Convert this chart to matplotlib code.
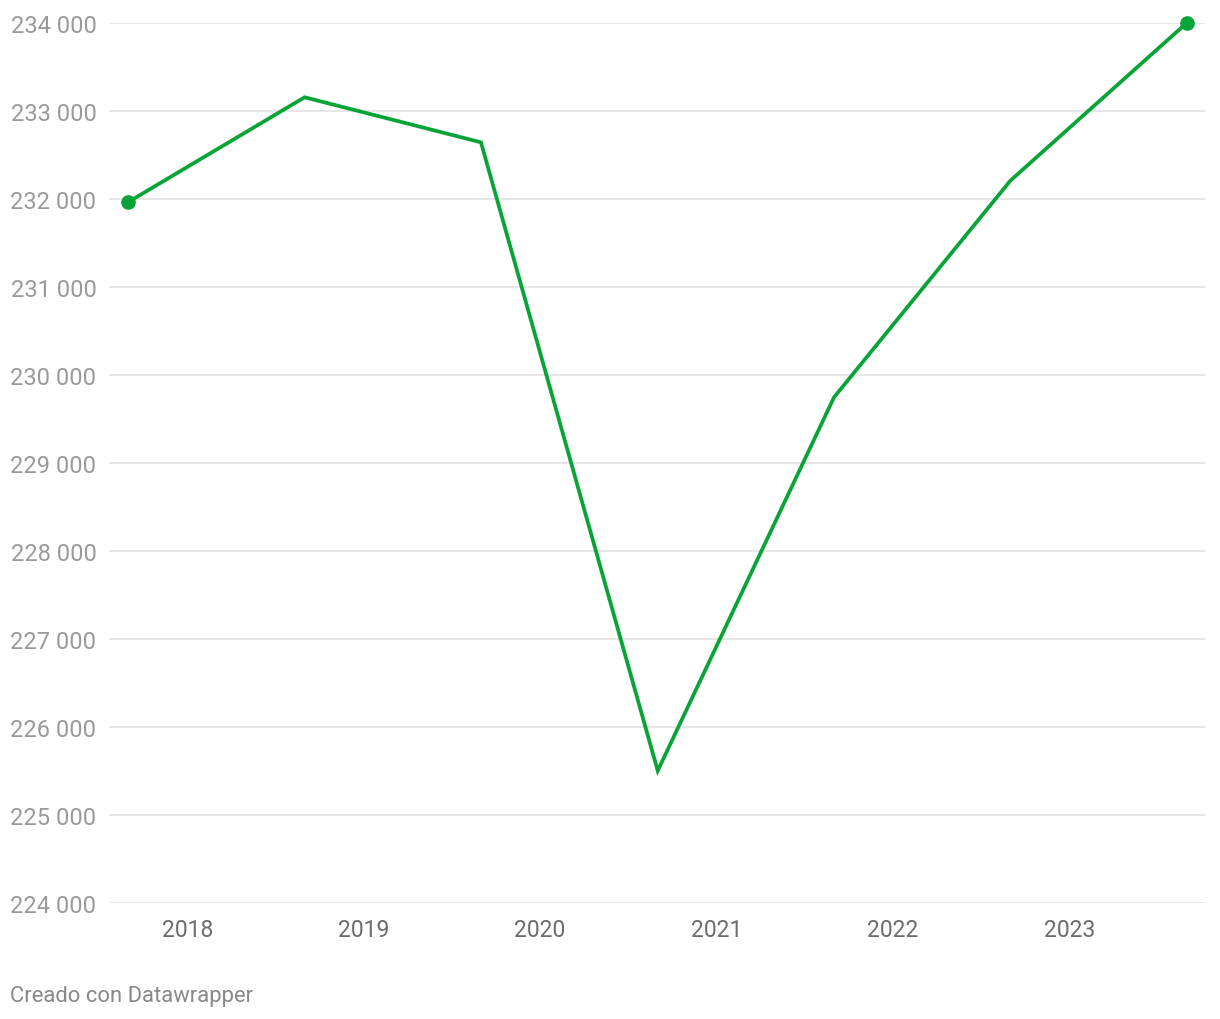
import pandas as pd
import matplotlib.pyplot as plt
import matplotlib.dates as mdates
from matplotlib.ticker import FuncFormatter

plt.rcParams['font.family'] = ['Roboto', 'DejaVu Sans']

# Datos
fechas = ['2017-09-01', '2018-09-01', '2019-09-01', '2020-09-01',
          '2021-09-01', '2022-09-01', '2023-09-01']
valores = [231966, 233156, 232644, 225503, 229747, 232208, 234000]
y_ticks = list(range(224000, 235000, 1000))

x = pd.to_datetime(fechas)
verde = '#08a437'

fig = plt.figure(figsize=(12.2, 10.2), dpi=100)
ax = fig.add_axes([109 / 1220, 1 - 904 / 1020, (1205 - 109) / 1220, (904 - 24) / 1020])

ax.plot(x, valores, color=verde, lw=2.7, solid_joinstyle='miter', zorder=3)
ax.plot([x[0], x[-1]], [valores[0], valores[-1]], 'o', color=verde, ms=9.5,
        zorder=4, clip_on=False)

ax.set_ylim(224000, 234000)
ax.set_yticks(y_ticks)
ax.yaxis.set_major_formatter(FuncFormatter(lambda v, p: f'{int(v):,}'.replace(',', ' ')))
ax.set_xlim(pd.Timestamp('2017-07-23'), pd.Timestamp('2023-10-09'))
ax.xaxis.set_major_locator(mdates.YearLocator())
ax.xaxis.set_major_formatter(mdates.DateFormatter('%Y'))

ax.grid(axis='y', color='#e1e1e1', lw=1.2, zorder=0)
for s in ax.spines.values():
    s.set_visible(False)
ax.tick_params(axis='y', length=0, pad=9, labelsize=17, labelcolor='#9a9a9a')
ax.tick_params(axis='x', length=0, pad=10.5, labelsize=16.5, labelcolor='#6b6b6b')

fig.text(10 / 1220, 1 - 997 / 1020, 'Creado con Datawrapper', fontsize=15.8,
         color='#888888', va='center', ha='left')

fig.savefig('out.png', dpi=100)
